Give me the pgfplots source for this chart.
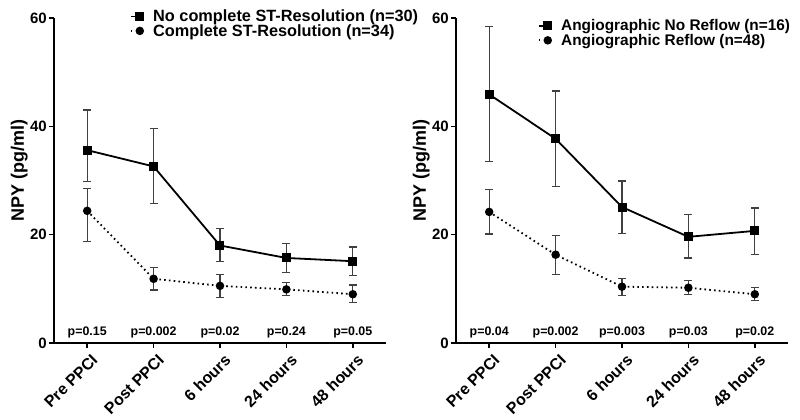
\documentclass[border=0pt]{standalone}
\usepackage{pgfplots}
\usepackage{pgfplotstable}
\pgfplotsset{compat=1.18}
\usepackage{fontspec}
\setmainfont{Liberation Sans}

% x  y  plus  minus
\pgfplotstableread{
x y ep em
0 35.6 7.4 5.8
1 32.6 7.0 6.9
2 18.0 3.1 3.0
3 15.7 2.7 2.7
4 15.1 2.6 2.6
}\leftsq
\pgfplotstableread{
x y ep em
0 24.4 4.1 5.6
1 11.85 2.15 2.05
2 10.55 2.05 2.15
3 9.9 1.3 1.1
4 9.0 1.7 1.5
}\leftci
\pgfplotstableread{
x y ep em
0 45.9 12.5 12.4
1 37.7 8.8 8.8
2 25.1 4.8 4.9
3 19.6 4.1 3.9
4 20.7 4.2 4.3
}\rightsq
\pgfplotstableread{
x y ep em
0 24.2 4.1 4.1
1 16.3 3.5 3.7
2 10.4 1.5 1.6
3 10.2 1.3 1.3
4 9.0 1.3 1.2
}\rightci

\tikzset{pval/.style={font=\fontsize{12.4}{14}\selectfont\bfseries}}

\pgfplotsset{
  npy/.style={
    scale only axis, width=332pt, height=325pt,
    xmin=-0.5, xmax=4.5, ymin=0, ymax=60,
    axis x line=bottom, axis y line=left,
    axis line style={-, line width=1.8pt},
    tick align=outside, major tick length=5pt,
    tick style={line width=1.5pt, black},
    xtick={0,1,2,3,4},
    xticklabels={Pre PPCI, Post PPCI, 6 hours, 24 hours, 48 hours},
    ytick={0,20,40,60},
    /pgf/number format/assume math mode=true,
    yticklabel style={font=\fontsize{15}{17}\selectfont\bfseries, inner sep=2pt},
    xticklabel style={font=\fontsize{16}{18}\selectfont\bfseries, rotate=45, anchor=north east, inner sep=1pt, yshift=-5pt},
    ylabel={NPY (pg/ml)},
    ylabel style={font=\fontsize{18}{20}\selectfont\bfseries, at={(axis description cs:-0.105,0.532)}, anchor=center},
    legend style={draw=none, fill=none, inner sep=0pt, row sep=0pt,
      font=\fontsize{16.3}{18}\selectfont\bfseries, cells={anchor=west}, nodes={inner sep=0.5pt}},
    legend image code/.code={\draw[mark repeat=2, mark phase=2] plot coordinates {(0pt,0pt) (9pt,0pt)};
      \path (21pt,0pt);},
    clip=false,
  },
  sq/.style={black, line width=1.8pt, mark=square*, mark size=3.6pt, mark options={solid},
    error bars/.cd, y dir=both, y explicit,
    error bar style={line width=1.3pt, color=black!75, solid},
    error mark options={rotate=90, mark size=4pt, line width=1.3pt, color=black!75}},
  ci/.style={black, line width=1.8pt, dash pattern=on 1.6pt off 3.2pt, mark=*, mark size=3.3pt, mark options={solid},
    error bars/.cd, y dir=both, y explicit,
    error bar style={line width=1.3pt, color=black!75, solid},
    error mark options={rotate=90, mark size=4pt, line width=1.3pt, color=black!75}},
}

\begin{document}
\begin{tikzpicture}
\path[use as bounding box] (0,0) rectangle (800pt,420pt);

\begin{axis}[npy, at={(54pt,77pt)}, anchor=south west,
  legend style={at={(axis description cs:0.228,1.027)}, anchor=north west}]
\addplot[sq] table[x=x, y=y, y error plus=ep, y error minus=em] {\leftsq};
\addlegendentry{No complete ST-Resolution (n=30)}
\addplot[ci] table[x=x, y=y, y error plus=ep, y error minus=em] {\leftci};
\addlegendentry{Complete ST-Resolution (n=34)}
\node[pval] at (axis cs:0,1.9) {p=0.15};
\node[pval] at (axis cs:1,1.9) {p=0.002};
\node[pval] at (axis cs:2,1.9) {p=0.02};
\node[pval] at (axis cs:3,1.9) {p=0.24};
\node[pval] at (axis cs:4,1.9) {p=0.05};
\end{axis}

\begin{axis}[npy, at={(456pt,77pt)}, anchor=south west,
  legend style={at={(axis description cs:0.246,0.998)}, anchor=north west,
    font=\fontsize{15.4}{17}\selectfont\bfseries, row sep=1pt}]
\addplot[sq] table[x=x, y=y, y error plus=ep, y error minus=em] {\rightsq};
\addlegendentry{Angiographic No Reflow (n=16)}
\addplot[ci] table[x=x, y=y, y error plus=ep, y error minus=em] {\rightci};
\addlegendentry{Angiographic Reflow (n=48)}
\node[pval] at (axis cs:0,1.9) {p=0.04};
\node[pval] at (axis cs:1,1.9) {p=0.002};
\node[pval] at (axis cs:2,1.9) {p=0.003};
\node[pval] at (axis cs:3,1.9) {p=0.03};
\node[pval] at (axis cs:4,1.9) {p=0.02};
\end{axis}
\end{tikzpicture}
\end{document}
